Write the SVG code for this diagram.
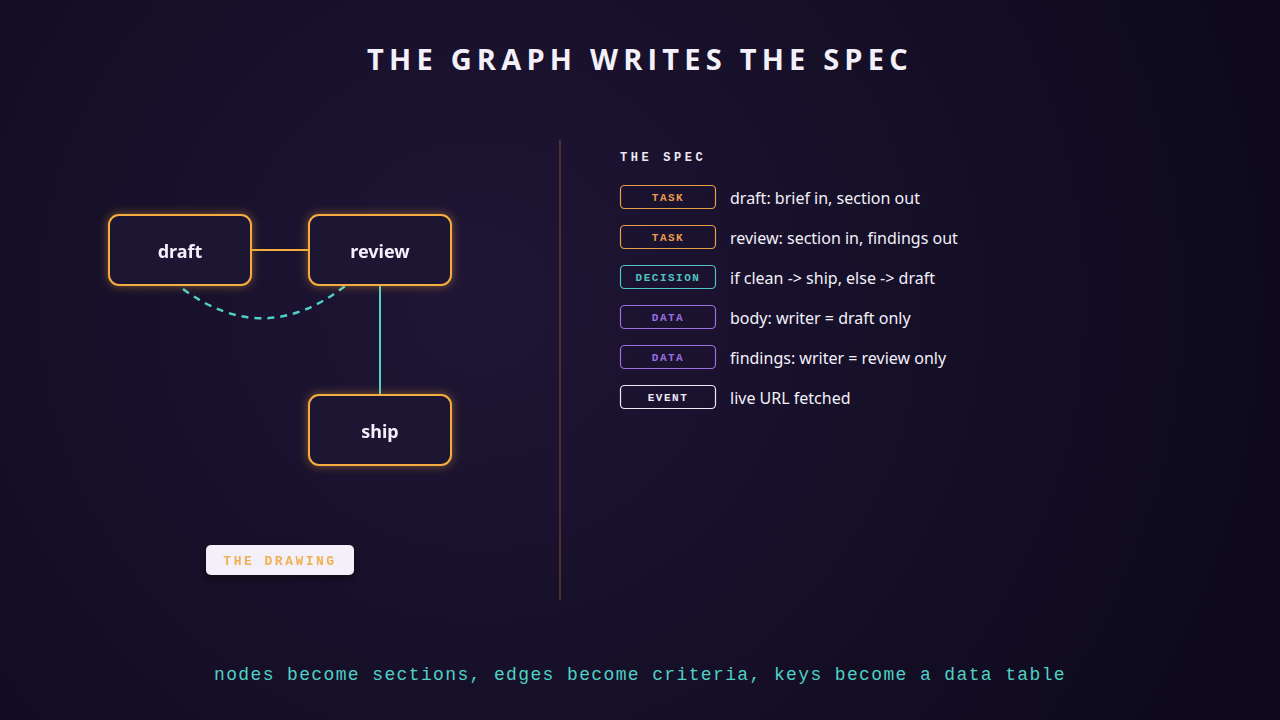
<svg xmlns="http://www.w3.org/2000/svg" width="1280" height="720" viewBox="0 0 1280 720">
<defs>
<radialGradient id="bg" cx="480" cy="300" r="800" gradientUnits="userSpaceOnUse">
<stop offset="0" stop-color="#1f1535"/>
<stop offset="1" stop-color="#0e0a1c"/>
</radialGradient>
<filter id="glow" x="-30%" y="-40%" width="160%" height="180%">
<feGaussianBlur in="SourceAlpha" stdDeviation="5" result="b"/>
<feFlood flood-color="#f5a83a" flood-opacity="0.45"/>
<feComposite in2="b" operator="in" result="g"/>
<feMerge><feMergeNode in="g"/><feMergeNode in="SourceGraphic"/></feMerge>
</filter>
<filter id="shadow" x="-20%" y="-40%" width="140%" height="200%">
<feDropShadow dx="0" dy="3" stdDeviation="4" flood-color="#000" flood-opacity="0.5"/>
</filter>
</defs>
<style>
.node rect{fill:#1a1230;stroke:#f5ad3f;stroke-width:2}
.node text{font-family:"Noto Sans","Open Sans",sans-serif;font-weight:bold;font-size:18px;fill:#f3f0fa;text-anchor:middle}
.mono{font-family:"Courier New",Courier,"Liberation Mono",monospace}
.badge rect{fill:none;stroke-width:1.2}
.badge text{font-family:"Courier New",Courier,"Liberation Mono",monospace;font-size:11px;font-weight:bold;letter-spacing:1.5px;text-anchor:middle}
.spec{font-family:"Noto Sans","Open Sans",sans-serif;font-size:16px;fill:#f3f0fa}
.task rect{stroke:#e89d48}.task text{fill:#e89d48}
.dec rect{stroke:#4fc4c4}.dec text{fill:#4fc4c4}
.data rect{stroke:#9a6fe0}.data text{fill:#9a6fe0}
.event rect{stroke:#eeeaf5}.event text{fill:#eeeaf5}
</style>
<rect width="1280" height="720" fill="url(#bg)"/>
<text x="640" y="70" text-anchor="middle" font-family="Open Sans, Noto Sans, sans-serif" font-weight="bold" font-size="29" letter-spacing="5.2" fill="#f3f0fa">THE GRAPH WRITES THE SPEC</text>

<g id="connectors" fill="none">
<line x1="251" y1="250" x2="309" y2="250" stroke="#f5ad3f" stroke-width="2"/>
<line x1="380" y1="285" x2="380" y2="395" stroke="#4fd1c5" stroke-width="2"/>
<path d="M183,289 Q264,349 345,286" stroke="#4fd1c5" stroke-width="2.5" stroke-dasharray="7,6"/>
</g>

<g id="node-draft" class="node" filter="url(#glow)">
<rect x="109" y="215" width="142" height="70" rx="10"/>
<text x="180" y="258">draft</text>
</g>
<g id="node-review" class="node" filter="url(#glow)">
<rect x="309" y="215" width="142" height="70" rx="10"/>
<text x="380" y="258">review</text>
</g>
<g id="node-ship" class="node" filter="url(#glow)">
<rect x="309" y="395" width="142" height="70" rx="10"/>
<text x="380" y="438">ship</text>
</g>

<g id="drawing-label" filter="url(#shadow)">
<rect x="206" y="545" width="148" height="30" rx="5" fill="#f3f0fa"/>
<text class="mono" x="280" y="564.5" text-anchor="middle" font-size="13" font-weight="bold" letter-spacing="2.5" fill="#f0b050">THE DRAWING</text>
</g>

<line id="divider" x1="560" y1="140" x2="560" y2="600" stroke="#5e3e30" stroke-width="1.5"/>

<g id="spec">
<text class="mono" x="620" y="161" font-size="12" font-weight="bold" letter-spacing="3.6" fill="#eeeaf5">THE SPEC</text>
<g class="badge task"><rect x="620.5" y="185.5" width="95" height="23" rx="4"/><text x="668" y="201">TASK</text></g>
<text class="spec" x="730" y="204">draft: brief in, section out</text>
<g class="badge task"><rect x="620.5" y="225.5" width="95" height="23" rx="4"/><text x="668" y="241">TASK</text></g>
<text class="spec" x="730" y="244">review: section in, findings out</text>
<g class="badge dec"><rect x="620.5" y="265.5" width="95" height="23" rx="4"/><text x="668" y="281">DECISION</text></g>
<text class="spec" x="730" y="284">if clean -&gt; ship, else -&gt; draft</text>
<g class="badge data"><rect x="620.5" y="305.5" width="95" height="23" rx="4"/><text x="668" y="321">DATA</text></g>
<text class="spec" x="730" y="324">body: writer = draft only</text>
<g class="badge data"><rect x="620.5" y="345.5" width="95" height="23" rx="4"/><text x="668" y="361">DATA</text></g>
<text class="spec" x="730" y="364">findings: writer = review only</text>
<g class="badge event"><rect x="620.5" y="385.5" width="95" height="23" rx="4"/><text x="668" y="401">EVENT</text></g>
<text class="spec" x="730" y="404">live URL fetched</text>
</g>

<text class="mono" x="640" y="680" text-anchor="middle" font-size="18" letter-spacing="1.37" fill="#4fd1c5">nodes become sections, edges become criteria, keys become a data table</text>
</svg>
